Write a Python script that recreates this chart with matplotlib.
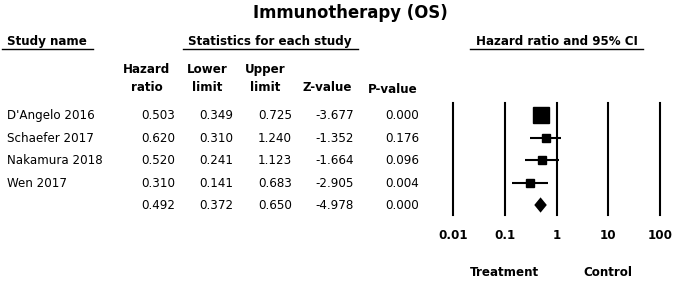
import matplotlib
matplotlib.use('Agg')
import matplotlib.pyplot as plt
import matplotlib.transforms as mtransforms
from matplotlib.lines import Line2D
import numpy as np

# study data
studies = ["D'Angelo 2016", "Schaefer 2017", "Nakamura 2018", "Wen 2017", ""]
hazard = [0.503, 0.620, 0.520, 0.310, 0.492]
lower = [0.349, 0.310, 0.241, 0.141, 0.372]
upper = [0.725, 1.240, 1.123, 0.683, 0.650]
zvals = [-3.677, -1.352, -1.664, -2.905, -4.978]
pvals = [0.000, 0.176, 0.096, 0.004, 0.000]
ticks = [0.01, 0.1, 1, 10, 100]
tick_labels = ["0.01", "0.1", "1", "10", "100"]

W, H = 677, 284
fig = plt.figure(figsize=(W / 100, H / 100), dpi=100)
fig.patch.set_facecolor('white')


def fx(x):
    return x / W


def fy(y):
    return 1 - y / H


def txt(x, y, s, ha='left', bold=False, size=8.6):
    fig.text(fx(x), fy(y), s, ha=ha, va='baseline', fontsize=size,
             fontweight='bold' if bold else 'normal', color='black')


def uline(x0, x1, y):
    fig.add_artist(Line2D([fx(x0), fx(x1)], [fy(y), fy(y)], color='black', lw=1.0,
                          transform=fig.transFigure))


# title and group headers
txt(350, 18, "Immunotherapy (OS)", ha='center', bold=True, size=11.9)
txt(7, 45, "Study name", bold=True)
uline(2, 93, 49)
txt(270, 45, "Statistics for each study", ha='center', bold=True)
uline(183, 358, 49)
txt(557, 45, "Hazard ratio and 95% CI", ha='center', bold=True)
uline(470, 643, 49)

# column headers
txt(147, 73, "Hazard", ha='center', bold=True)
txt(147, 91, "ratio", ha='center', bold=True)
txt(207, 73, "Lower", ha='center', bold=True)
txt(207, 91, "limit", ha='center', bold=True)
txt(265, 73, "Upper", ha='center', bold=True)
txt(265, 91, "limit", ha='center', bold=True)
txt(327, 91, "Z-value", ha='center', bold=True)
txt(393, 93, "P-value", ha='center', bold=True)

# table rows
row_y0, row_step = 115, 22.5
for i in range(len(studies)):
    yb = row_y0 + i * row_step + 4.3
    txt(7, yb, studies[i])
    txt(175, yb, f"{hazard[i]:.3f}", ha='right')
    txt(233, yb, f"{lower[i]:.3f}", ha='right')
    txt(292, yb, f"{upper[i]:.3f}", ha='right')
    txt(354, yb, f"{zvals[i]:.3f}", ha='right')
    txt(419, yb, f"{pvals[i]:.3f}", ha='right')

# forest plot
ax_top, ax_bot = 103, 215
ax = fig.add_axes([fx(453), fy(ax_bot), (660 - 453) / W, (ax_bot - ax_top) / H])
ax.set_xscale('log')
ax.set_xlim(0.01, 100)
ax.set_ylim(4 + (ax_bot - (row_y0 + 4 * row_step)) / row_step,
            -(row_y0 - ax_top) / row_step)
ax.axis('off')

for t in ticks:
    ax.axvline(t, color='black', lw=1.5, clip_on=False)

# square sizes from inverse-variance weights
se = [(np.log(u) - np.log(l)) / 3.92 for l, u in zip(lower[:4], upper[:4])]
wts = [1 / s ** 2 for s in se]
wmax = max(wts)
for i in range(4):
    ax.hlines(i, lower[i], upper[i], color='black', lw=1.5)
    ms = 12.2 * np.sqrt(wts[i] / wmax)
    ax.plot(hazard[i], i, marker='s', color='black', markersize=ms, linestyle='none')

# pooled diamond
h = 0.34
ax.fill([lower[4], hazard[4], upper[4], hazard[4]], [4, 4 - h, 4, 4 + h],
        color='black', lw=0)

trans = mtransforms.blended_transform_factory(ax.transData, fig.transFigure)
for t, lab in zip(ticks, tick_labels):
    ax.text(t, fy(239), lab, transform=trans, ha='center', va='baseline',
            fontsize=8.6, fontweight='bold')
ax.text(0.1, fy(276), "Treatment", transform=trans, ha='center', va='baseline',
        fontsize=8.6, fontweight='bold')
ax.text(10, fy(276), "Control", transform=trans, ha='center', va='baseline',
        fontsize=8.6, fontweight='bold')

plt.savefig('out.png', dpi=100, facecolor='white')
